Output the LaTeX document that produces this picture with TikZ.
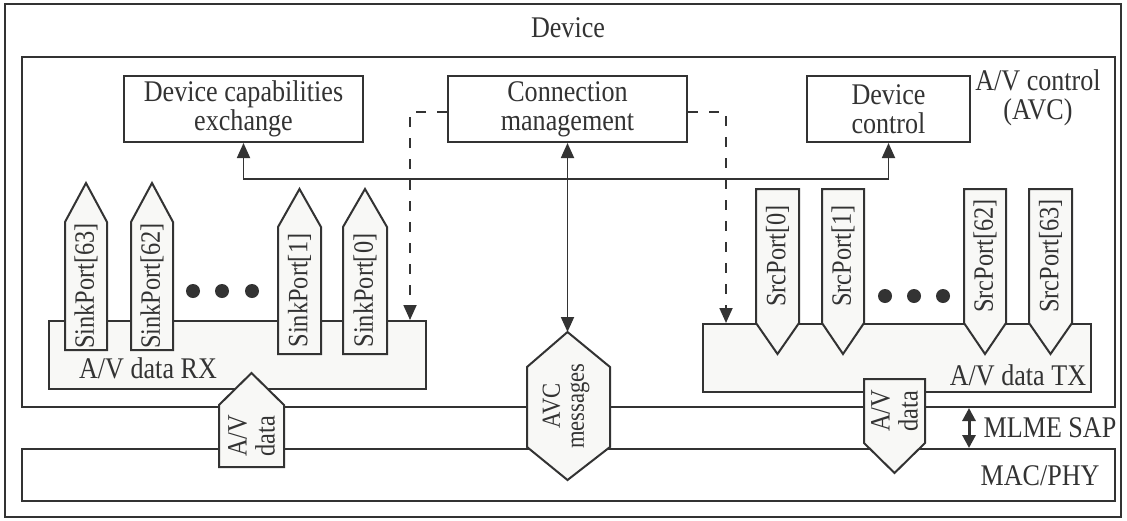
\documentclass[tikz,border=0pt]{standalone}
\usepackage{fontspec}
\setmainfont{Liberation Serif}[FakeStretch=0.87]
\usetikzlibrary{arrows.meta,calc}
\definecolor{lc}{HTML}{333333}
\definecolor{pf}{HTML}{F8F8F6}
\newcommand\uport[7]{% name xl xr ytip ysh ybot text
  \path[shp] (#2,#6) -- (#2,#5) -- ({(#2+#3)/2},#4) -- (#3,#5) -- (#3,#6) -- cycle;
  \node[ptxt] (#1) at ({(#2+#3)/2},{(#5+#6)/2}) {#7};}
\newcommand\dport[7]{% name xl xr ytop ysh ytip text
  \path[shp] (#2,#4) -- (#2,#5) -- ({(#2+#3)/2},#6) -- (#3,#5) -- (#3,#4) -- cycle;
  \node[ptxt] (#1) at ({(#2+#3)/2},{(#4+#5)/2}) {#7};}
\begin{document}
\begin{tikzpicture}[x=1pt,y=-1pt,
  lbl/.style={text=lc, inner sep=0pt, font=\fontsize{30}{29}\selectfont, align=center},
  ptxt/.style={text=lc, inner sep=0pt, font=\fontsize{28}{28}\selectfont, align=center, rotate=90},
  box/.style={draw=lc, line width=2pt, fill=white, inner sep=0pt, text=lc,
              font=\fontsize{30}{29}\selectfont, align=center},
  shp/.style={draw=lc, line width=2pt, fill=pf, line join=miter},
  conn/.style={draw=lc, line width=1.8pt},
  tipboth/.style={{Triangle[width=13pt,length=15pt]}-{Triangle[width=13pt,length=15pt]}},
  tipend/.style={-{Triangle[width=13pt,length=15pt]}},
  dashline/.style={dash pattern=on 10pt off 11pt},
]
\useasboundingbox (0,0) rectangle (1127,520);
% frames
\node[box, minimum width=1116, minimum height=513] (outer) at (563,260.5) {};
\node[box, minimum width=1093, minimum height=350] (avc) at (568.5,232) {};
\node[box, minimum width=1093, minimum height=52] (mac) at (568.5,475) {};
% top boxes
\node[box, minimum width=239, minimum height=66] (dce) at (243.5,109) {Device capabilities\\exchange};
\node[box, minimum width=239, minimum height=66] (cm) at (567.5,109) {Connection\\management};
\node[box, minimum width=163, minimum height=66] (dc) at (888.5,109) {Device\\control};
% data boxes
\node[box, fill=pf, minimum width=377, minimum height=68] (rx) at (237.5,355) {};
\node[box, fill=pf, minimum width=388, minimum height=68] (tx) at (897,358) {};
\coordinate (hexN) at (567.5,332);
% connectors
\draw[conn, tipboth] (dce.south) -- ++(0,36) -| (dc.south);
\draw[conn, tipboth] (cm.south) -- (hexN);
\draw[conn, dashline, tipend] ([yshift=-3pt]cm.west) -| ([xshift=-17pt]rx.north east);
\draw[conn, dashline, tipend] ([yshift=-3pt]cm.east) -| ([xshift=24pt]tx.north west);
% sink ports
\uport{sp63}{65}{107}{183}{222}{350}{SinkPort[63]}
\uport{sp62}{131}{173}{183}{222}{350}{SinkPort[62]}
\uport{sp1}{278}{321}{189}{227}{354}{SinkPort[1]}
\uport{sp0}{343}{387}{189}{227}{354}{SinkPort[0]}
% src ports
\dport{sr0}{756}{799}{189}{323}{354}{SrcPort[0]}
\dport{sr1}{822}{864}{189}{323}{354}{SrcPort[1]}
\dport{sr62}{964}{1006}{189}{323}{354}{SrcPort[62]}
\dport{sr63}{1029}{1072}{189}{323}{354}{SrcPort[63]}
% dots
\foreach \x in {193,222,252} \fill[lc] (\x,291) circle (7);
\foreach \x in {885,914,943} \fill[lc] (\x,296) circle (7);
% lower data pentagons
\uport{avl}{219}{284}{373}{405}{467}{A/V\\data}
\dport{avr}{864}{925}{379}{443}{473}{A/V\\data}
% hexagon
\path[shp] (567.5,332) -- (610,367) -- (610,447) -- (567.5,480) -- (527,447) -- (527,367) -- cycle;
\node[ptxt, font=\fontsize{26}{24}\selectfont] (hex) at (566,406) {AVC\\messages};
% MLME SAP
\coordinate (ml) at (969,428);
\draw[conn, line width=3pt, {Triangle[width=13pt,length=13pt]}-{Triangle[width=13pt,length=13pt]}] (ml |- avc.south) -- (ml |- mac.north);
% labels
\node[lbl] (devlbl) at (568,28) {Device};
\node[lbl] (avclbl) at (1038,98) {A/V control\\(AVC)};
\node[lbl] (rxlbl) at (148,368) {A/V data RX};
\node[lbl] (txlbl) at (1018,375) {A/V data TX};
\node[lbl] (mllbl) at (1050,428) {MLME SAP};
\node[lbl] (maclbl) at (1040,476) {MAC/PHY};
\end{tikzpicture}
\end{document}
